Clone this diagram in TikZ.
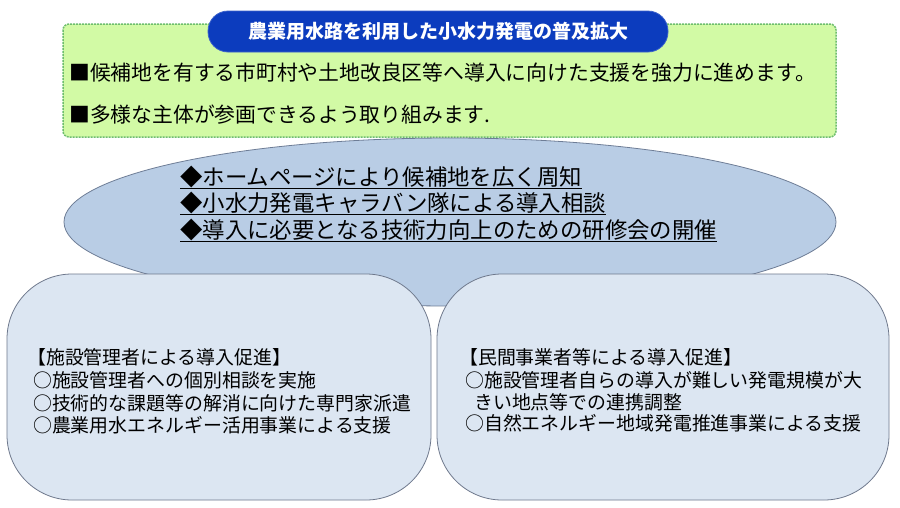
\documentclass[tikz,border=0pt]{standalone}
\usepackage{fontspec}
\setmainfont{Noto Sans CJK JP}
\definecolor{gfill}{RGB}{210,250,165}
\definecolor{gline}{RGB}{110,190,110}
\definecolor{tblue}{RGB}{12,60,190}
\definecolor{efill}{RGB}{185,205,229}
\definecolor{eline}{RGB}{110,125,150}
\definecolor{bfill}{RGB}{220,230,242}
\definecolor{bline}{RGB}{110,120,140}
\newcommand{\myul}[1]{\underline{\vrule width 0pt height 0.8em depth 0.06em\smash{#1}}}
\tikzset{
  txt/.style={anchor=west,inner sep=0pt,text=black},
  lowbox/.style={draw=bline,fill=bfill,line width=0.8pt,rounded corners=65pt},
  gtxt/.style={txt,font=\fontsize{20.8}{22}\selectfont},
  etxt/.style={txt,font=\fontsize{22.4}{24}\selectfont},
  btxt/.style={txt,font=\fontsize{18.9}{20}\selectfont},
}
\begin{document}
\begin{tikzpicture}[x=1pt,y=-1pt]
\useasboundingbox[fill=white] (0,0) rectangle (900,507);
% green box
\draw[fill=gfill,draw=gline,line width=1.5pt,dash pattern=on 2pt off 1pt,rounded corners=6pt] (63,24) rectangle (836,137);
\node[fill=tblue,draw=tblue!80!white,line width=0.8pt,rounded corners=20pt,minimum width=460pt,minimum height=41pt,inner sep=0pt] (title) at (438,31.5) {};
\node[inner sep=0pt,text=white,font=\fontsize{19}{21}\selectfont\bfseries] (titletext) at (title.center) {農業用水路を利用した小水力発電の普及拡大};
\node[gtxt] (l1) at (69,73) {■候補地を有する市町村や土地改良区等へ導入に向けた支援を強力に進めます。};
\node[gtxt] (l2) at (69,115) {■多様な主体が参画できるよう取り組みます.};
% ellipse
\draw[fill=efill,draw=eline,line width=0.8pt] (450,222) ellipse [x radius=386, y radius=84];
\node[etxt,anchor=base west] (e1) at (180,185) {\myul{◆ホームページにより候補地を広く周知}};
\node[etxt,anchor=base west] (e2) at (180,211.5) {\myul{◆小水力発電キャラバン隊による導入相談}};
\node[etxt,anchor=base west] (e3) at (180,238) {\myul{◆導入に必要となる技術力向上のための研修会の開催}};
% lower boxes
\draw[lowbox] (7,274) rectangle (431,500);
\draw[lowbox] (437,274) rectangle (889,500);
\node[btxt] (a0) at (27,357) {【施設管理者による導入促進】};
\node[btxt] (a1) at (33,380) {○施設管理者への個別相談を実施};
\node[btxt] (a2) at (33,403) {○技術的な課題等の解消に向けた専門家派遣};
\node[btxt] (a3) at (33,425) {○農業用水エネルギー活用事業による支援};
\node[btxt] (b0) at (459,357) {【民間事業者等による導入促進】};
\node[btxt] (b1) at (465,380) {○施設管理者自らの導入が難しい発電規模が大};
\node[btxt] (b2) at (474,402) {きい地点等での連携調整};
\node[btxt] (b3) at (465,423) {○自然エネルギー地域発電推進事業による支援};
\end{tikzpicture}
\end{document}
